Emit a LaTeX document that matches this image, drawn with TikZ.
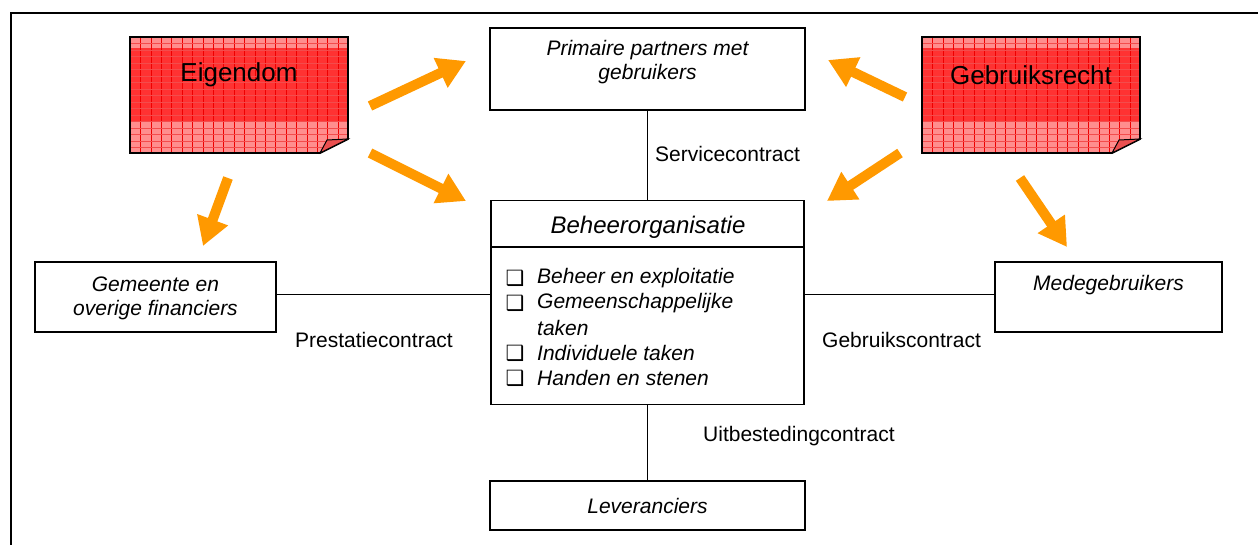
\documentclass[tikz,border=0pt]{standalone}
\usepackage{fontspec}
\setmainfont{Liberation Sans}
\newfontfamily\symfont{DejaVu Sans}
\usetikzlibrary{arrows.meta}

\definecolor{arroworange}{RGB}{255,153,0}
\definecolor{notelight}{RGB}{255,142,142}
\definecolor{notemid}{RGB}{255,50,50}
\definecolor{notegrid}{RGB}{238,0,0}
\definecolor{notefold}{RGB}{235,80,80}

\tikzset{
  box/.style={draw, line width=1.3pt, inner sep=0pt},
  boxtext/.style={font=\fontsize{21}{25}\selectfont\itshape, align=center, inner sep=0pt},
  titletext/.style={font=\fontsize{24}{28}\selectfont\itshape, inner sep=0pt},
  itemtext/.style={font=\fontsize{21}{25}\selectfont\itshape, anchor=west, inner sep=0pt},
  checkbox/.style={font=\fontsize{21}{21}\selectfont\symfont, inner sep=0pt},
  contractlabel/.style={font=\fontsize{21}{25}\selectfont, anchor=west, inner sep=0pt},
  notetext/.style={font=\fontsize{26}{30}\selectfont, inner sep=0pt},
  link/.style={line width=1.2pt},
  blockarrow/.style={arroworange, line width=10pt,
    -{Triangle[width=31pt,length=28pt]}},
}

% sticky note with folded lower-right corner; #1,#2 = left/top, #3,#4 = right/bottom
\newcommand{\stickynote}[4]{%
  \begin{scope}
    \clip (#1,#2) -- (#3,#2) -- (#3,#4-14) -- (#3-28,#4) -- (#1,#4) -- cycle;
    \fill[notelight] (#1,#2) rectangle (#3,#4);
    \fill[notemid] (#1,#2+11) rectangle (#3,#4-31);
    \foreach \gx in {0,10.4,...,220} \draw[notegrid, line width=0.6pt] (#1+\gx,#2) -- (#1+\gx,#4);
    \foreach \gy in {0,6.5,...,120} \draw[notegrid!70, line width=0.4pt] (#1,#2+\gy) -- (#3,#2+\gy);
  \end{scope}
  \draw[line width=1.8pt] (#1,#2) -- (#3,#2) -- (#3,#4-14) -- (#3-28,#4) -- (#1,#4) -- cycle;
  \filldraw[fill=notefold, line width=1pt] (#3-28,#4) -- (#3-21,#4-13) -- (#3,#4-14) -- cycle;
}

\begin{document}
\begin{tikzpicture}[x=1pt, y=-1pt]
  \useasboundingbox (0,0) rectangle (1258,545);
  \fill[white] (0,0) rectangle (1258,545);

  % open page frame
  \draw[line width=2pt] (10.5,545) -- (10.5,13.5) -- (1258,13.5);

  % sticky notes
  \stickynote{130}{37}{348}{153}
  \node[notetext] (eigendom) at (239,75) {Eigendom};
  \stickynote{922}{37}{1140}{153}
  \node[notetext] (gebruiksrecht) at (1031,75) {Gebruiksrecht};

  % boxes
  \node[box, minimum width=315pt, minimum height=82pt] (primaire) at (647.5,69) {};
  \node[boxtext] (primairetxt) at (647.5,62) {Primaire partners met\\[-1pt]gebruikers};

  \node[box, minimum width=313pt, minimum height=204pt] (beheer) at (647.5,302.5) {};
  \draw[line width=1.3pt] (beheer.west |- 0,247) -- (beheer.east |- 0,247);
  \node[titletext] (beheertxt) at (648,227) {Beheerorganisatie};
  \node[checkbox] (cb1) at (515,278) {❑};
  \node[itemtext] (it1) at (537,278) {Beheer en exploitatie};
  \node[checkbox] (cb2) at (515,303) {❑};
  \node[itemtext] (it2) at (537,303) {Gemeenschappelijke};
  \node[itemtext] (it2b) at (537,328) {taken};
  \node[checkbox] (cb3) at (515,353) {❑};
  \node[itemtext] (it3) at (537,353) {Individuele taken};
  \node[checkbox] (cb4) at (515,378) {❑};
  \node[itemtext] (it4) at (537,378) {Handen en stenen};

  \node[box, minimum width=241pt, minimum height=70pt] (gemeente) at (155.5,297) {};
  \node[boxtext] (gemeentetxt) at (155.5,298) {Gemeente en\\[-1pt]overige financiers};

  \node[box, minimum width=227pt, minimum height=70pt] (mede) at (1108.5,297) {};
  \node[boxtext] (medetxt) at (1108.5,285) {Medegebruikers};

  \node[box, minimum width=315pt, minimum height=49pt] (lever) at (647.5,505.5) {};
  \node[boxtext] (levertxt) at (647.5,506) {Leveranciers};

  % contracts
  \draw[link] (primaire.south) -- (beheer.north);
  \draw[link] (beheer.south) -- (lever.north);
  \draw[link] (gemeente.east |- 0,294.5) -- (beheer.west |- 0,294.5);
  \draw[link] (beheer.east |- 0,294.5) -- (mede.west |- 0,294.5);

  \node[contractlabel] (service) at (655,154) {Servicecontract};
  \node[contractlabel] (prestatie) at (295,340) {Prestatiecontract};
  \node[contractlabel] (gebruik) at (822,340) {Gebruikscontract};
  \node[contractlabel] (uitbest) at (703,436) {Uitbestedingcontract};

  % orange arrows
  \coordinate (a1s) at (370,106); \coordinate (a1e) at (466,61);
  \coordinate (a2s) at (370,153); \coordinate (a2e) at (466,201);
  \coordinate (a3s) at (228,178); \coordinate (a3e) at (203,246);
  \coordinate (a4s) at (905,97);  \coordinate (a4e) at (828,60);
  \coordinate (a5s) at (900,153); \coordinate (a5e) at (827,201);
  \coordinate (a6s) at (1020,178); \coordinate (a6e) at (1067,247);
  \foreach \k in {1,...,6} \draw[blockarrow] (a\k s) -- (a\k e);
\end{tikzpicture}
\end{document}
